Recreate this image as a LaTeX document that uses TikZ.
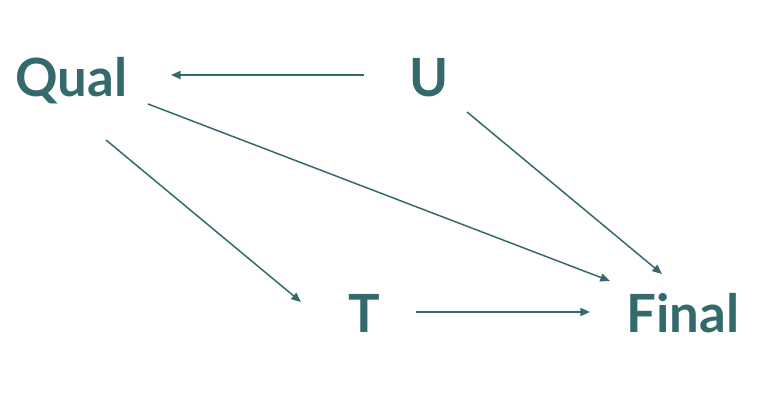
\documentclass[tikz,border=0pt]{standalone}
\usepackage{fontspec}
\setmainfont{Lato}
\usetikzlibrary{arrows.meta}
\definecolor{teal}{RGB}{52,106,108}
\tikzset{
  var/.style={text=teal,font=\bfseries\fontsize{30}{36}\selectfont,inner sep=0pt,anchor=base west},
  arr/.style={draw=teal,line width=0.85pt,-{Triangle[length=5.5pt,width=4.6pt]}}
}
\begin{document}
\begin{tikzpicture}[x=0.02cm,y=-0.02cm]
    \useasboundingbox (0,0) rectangle (763,411);
    \node[var] (qual) at (15,97) {Qual};
    \node[var] (u) at (409,97) {U};
    \node[var] (t) at (348,333) {T};
    \node[var] (final) at (626,333) {Final};
    \draw[arr] ([shift={(-45,-22)}]u.base west) -- ([shift={(156,-22)}]qual.base west);
    \draw[arr] ([shift={(133,7)}]qual.base west) -- ([shift={(-16,-52)}]final.base west);
    \draw[arr] ([shift={(91,43)}]qual.base west) -- ([shift={(-47,-31)}]t.base west);
    \draw[arr] ([shift={(58,15)}]u.base west) -- ([shift={(36,-59)}]final.base west);
    \draw[arr] ([shift={(68,-21)}]t.base west) -- ([shift={(-36,-21)}]final.base west);
  \end{tikzpicture}
\end{document}
